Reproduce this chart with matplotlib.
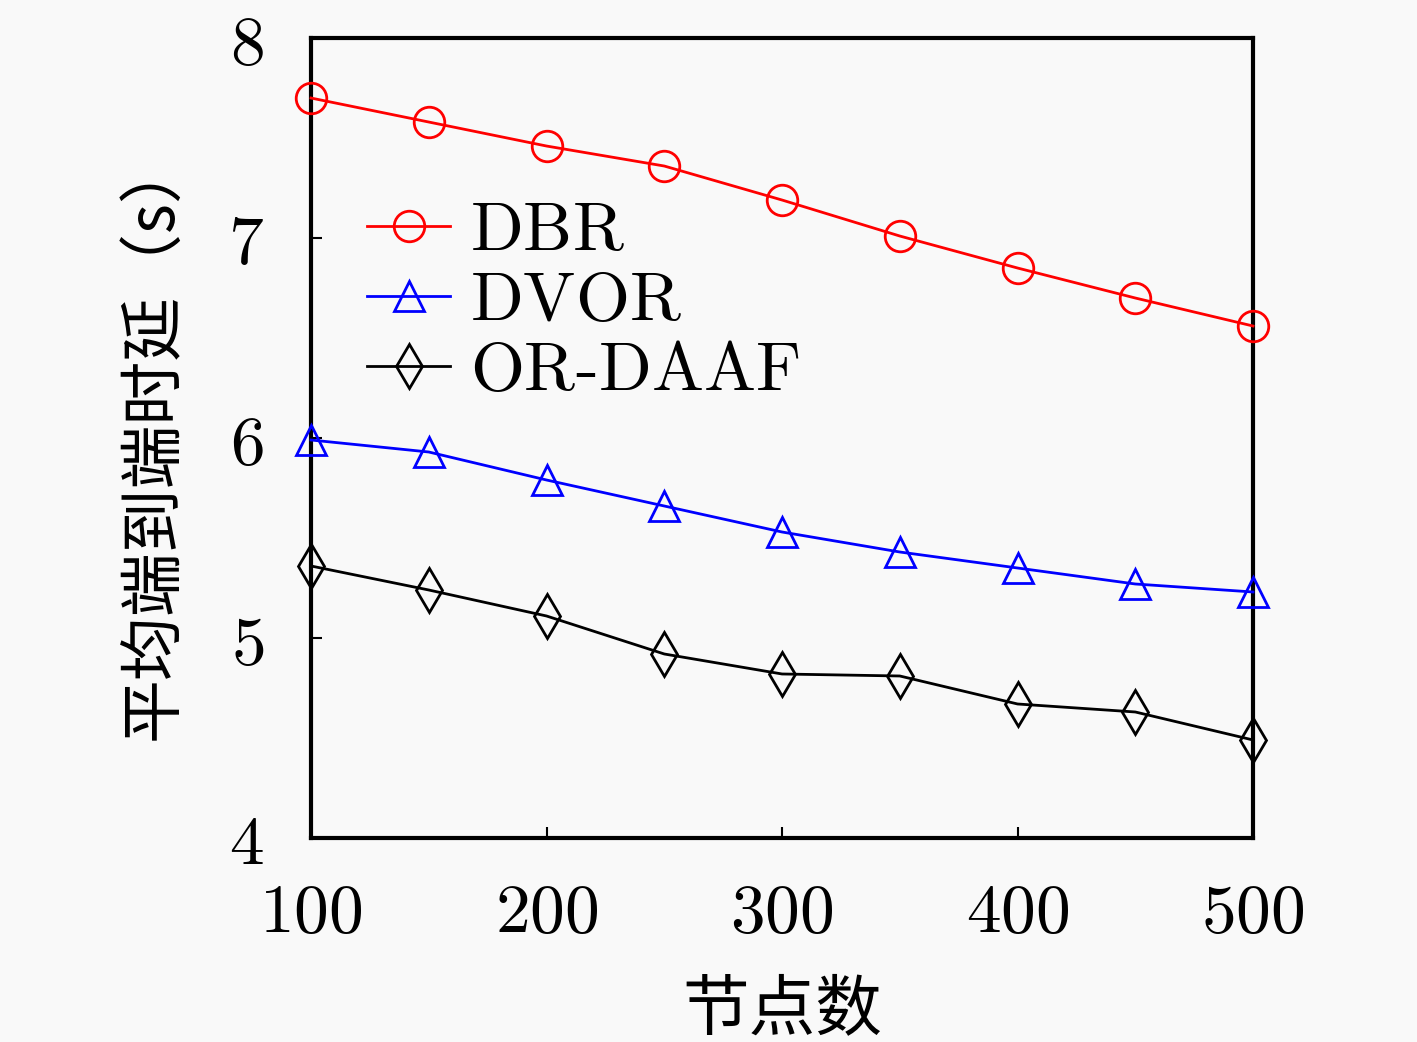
import numpy as np
import matplotlib
matplotlib.use("Agg")
import matplotlib.pyplot as plt

plt.rcParams["mathtext.fontset"] = "cm"
plt.rcParams["font.family"] = ["DejaVu Serif", "Noto Sans CJK SC"]

nodes = [100, 150, 200, 250, 300, 350, 400, 450, 500]
dbr = [7.70, 7.58, 7.46, 7.36, 7.19, 7.01, 6.85, 6.70, 6.56]
dvor = [5.99, 5.93, 5.79, 5.66, 5.53, 5.43, 5.35, 5.27, 5.23]
or_daaf = [5.36, 5.24, 5.11, 4.92, 4.82, 4.81, 4.67, 4.63, 4.49]

xticks = [100, 200, 300, 400, 500]
yticks = [4, 5, 6, 7, 8]

fig = plt.figure(figsize=(14.17, 10.42), dpi=100, facecolor="#f9f9f9")
ax = fig.add_axes([0.2195, 0.1958, 0.6648, 0.7677])
ax.set_facecolor("#f9f9f9")

kw = dict(lw=2, ms=22, mfc="none", mew=2, clip_on=False, zorder=3)
ax.plot(nodes, dbr, "-o", color="red", label=r"$\mathrm{DBR}$", **kw)
ax.plot(nodes, dvor, "-^", color="blue", label=r"$\mathrm{DVOR}$", **kw)
ax.plot(nodes, or_daaf, "-d", color="black", label=r"$\mathrm{OR}\text{-}\mathrm{DAAF}$", **kw)

ax.set_xlim(100, 500)
ax.set_ylim(4, 8)
ax.set_xticks(xticks)
ax.set_yticks(yticks)
ax.set_xticklabels([r"$%d$" % v for v in xticks], fontsize=50)
ax.set_yticklabels([r"$%d$" % v for v in yticks], fontsize=50)
ax.tick_params(axis="x", direction="in", length=8, width=1.5, top=False, pad=30)
ax.tick_params(axis="y", direction="in", length=8, width=1.5, right=False, pad=34)
for s in ax.spines.values():
    s.set_linewidth(3)

ax.set_xlabel("节点数", fontsize=48, family="Noto Sans CJK SC", labelpad=22)
ax.set_ylabel("平均端到端时延（s）", fontsize=46, family="Noto Sans CJK SC", labelpad=30)

ax.legend(loc="upper left", bbox_to_anchor=(0.03, 0.835), frameon=False, fontsize=50,
          handlelength=1.2, handletextpad=0.28, labelspacing=0.05, borderaxespad=0)

fig.savefig("out.png", dpi=100, facecolor=fig.get_facecolor())
